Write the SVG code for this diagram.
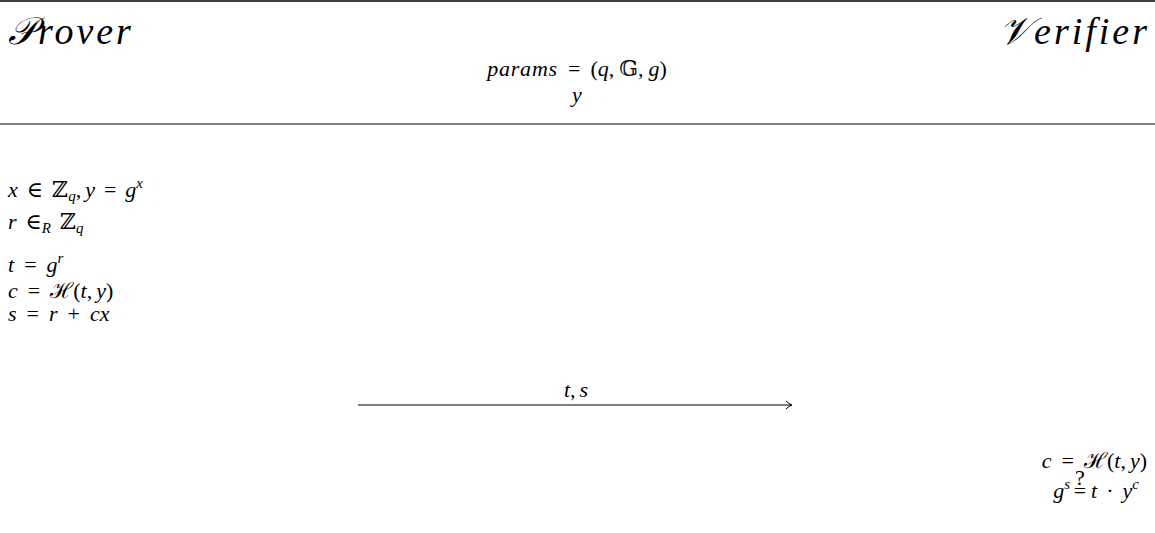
<svg xmlns="http://www.w3.org/2000/svg" width="1155" height="533" viewBox="0 0 1155 533">
<style>
.m{font-family:"Liberation Serif","DejaVu Serif",serif;font-size:22px;fill:#000}
.i{font-style:italic}
.s{font-size:15px;font-style:italic}
.t{font-family:"Liberation Serif","DejaVu Serif",serif;font-style:italic;font-size:38px;letter-spacing:3px;fill:#000}
line{stroke:#000}
</style>
<defs>
<marker id="ah" markerWidth="10" markerHeight="10" refX="8" refY="5" orient="auto" markerUnits="userSpaceOnUse">
<path d="M2,1 Q5,4 8,5 Q5,6 2,9" fill="none" stroke="#000" stroke-width="1"/>
</marker>
</defs>
<g id="rules">
<line x1="0" y1="1" x2="1155" y2="1" stroke-width="1.3"/>
<line x1="0" y1="124" x2="1155" y2="124" stroke-width="1"/>
</g>
<g id="prover"><text class="t" x="8" y="44">𝒫rover</text></g>
<g id="verifier"><text class="t" x="1150" y="44" text-anchor="end" letter-spacing="4">𝒱erifier</text></g>
<g id="public">
<text class="m" x="577" y="76" text-anchor="middle"><tspan class="i" letter-spacing="0.8">params</tspan><tspan dx="10">=</tspan><tspan dx="10">(</tspan><tspan class="i">q</tspan>,<tspan dx="5">𝔾</tspan>,<tspan class="i" dx="5">g</tspan>)</text>
<text class="m i" x="577" y="102" text-anchor="middle">y</text>
</g>
<g id="prover-steps">
<text class="m" x="8" y="197"><tspan class="i">x</tspan><tspan dx="9">∈</tspan><tspan dx="9">ℤ</tspan><tspan class="s" dy="4">q</tspan><tspan dy="-4">,</tspan><tspan class="i" dx="4">y</tspan><tspan dx="9">=</tspan><tspan class="i" dx="9">g</tspan><tspan class="s" dy="-9">x</tspan></text>
<text class="m" x="8" y="229"><tspan class="i">r</tspan><tspan dx="9">∈</tspan><tspan class="s" dy="4">R</tspan><tspan dy="-4" dx="9">ℤ</tspan><tspan class="s" dy="4">q</tspan></text>
<text class="m" x="8" y="272"><tspan class="i">t</tspan><tspan dx="10">=</tspan><tspan class="i" dx="10">g</tspan><tspan class="s" dy="-9">r</tspan></text>
<text class="m" x="8" y="298"><tspan class="i">c</tspan><tspan dx="10">=</tspan><tspan dx="10">ℋ(</tspan><tspan class="i">t</tspan>,<tspan class="i" dx="4">y</tspan>)</text>
<text class="m" x="8" y="321"><tspan class="i">s</tspan><tspan dx="10">=</tspan><tspan class="i" dx="10">r</tspan><tspan dx="10">+</tspan><tspan class="i" dx="10">cx</tspan></text>
</g>
<g id="connectors">
<line x1="358" y1="405" x2="792" y2="405" stroke-width="1" marker-end="url(#ah)"/>
<text class="m" x="576" y="397" text-anchor="middle"><tspan class="i">t</tspan>,<tspan class="i" dx="4">s</tspan></text>
</g>
<g id="verifier-steps">
<text class="m" x="1147" y="468" text-anchor="end"><tspan class="i">c</tspan><tspan dx="10">=</tspan><tspan dx="10">ℋ(</tspan><tspan class="i">t</tspan>,<tspan class="i" dx="4">y</tspan>)</text>
<text class="m" x="1070" y="498" text-anchor="end"><tspan class="i">g</tspan><tspan class="s" dy="-9">s</tspan></text>
<text class="m" x="1080" y="498" text-anchor="middle">=</text>
<text class="m" x="1080" y="485" text-anchor="middle" font-size="10">?</text>
<text class="m" x="1139" y="498" text-anchor="end"><tspan class="i">t</tspan><tspan dx="9">·</tspan><tspan class="i" dx="9">y</tspan><tspan class="s" dy="-9">c</tspan></text>
</g>
</svg>
